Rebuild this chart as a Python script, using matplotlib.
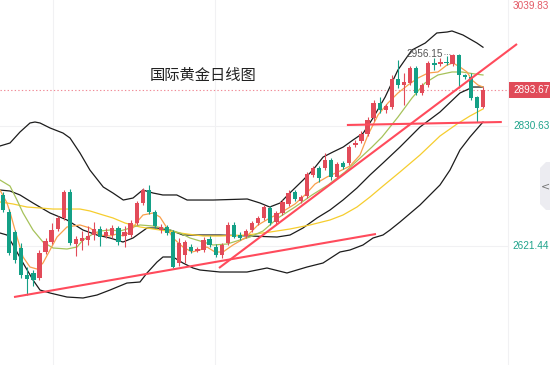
import matplotlib
matplotlib.use('Agg')
import matplotlib.pyplot as plt
import matplotlib.transforms as mtransforms
from matplotlib.patches import Rectangle, Polygon
import numpy as np

# ---------------- data ----------------
opens = [2710.4, 2680.7, 2645.8, 2618.0, 2570.9, 2574.4, 2565.7, 2611.0, 2628.4, 2651.1,
         2670.3, 2715.6, 2624.9, 2630.2, 2631.9, 2640.6, 2651.1, 2638.9, 2640.6, 2652.8,
         2638.9, 2640.6, 2661.5, 2696.4, 2719.1, 2680.7, 2649.3, 2654.6, 2645.8, 2591.8,
         2605.8, 2619.7, 2612.7, 2614.5, 2633.6, 2619.7, 2605.8, 2626.7, 2658.1, 2640.6,
         2638.9, 2649.3, 2661.5, 2670.3, 2687.7, 2663.3, 2679.0, 2694.7, 2715.6, 2699.9,
         2708.6, 2745.2, 2757.4, 2757.4, 2771.4, 2741.7, 2766.1, 2766.1, 2797.5, 2804.5,
         2816.7, 2844.6, 2870.7, 2858.5, 2863.8, 2912.6, 2902.1, 2905.6, 2931.8, 2888.2,
         2902.1, 2940.5, 2938.7, 2942.2, 2938.7, 2954.0, 2919.6, 2916.1, 2881.2, 2863.8]
highs = [2715.6, 2685.9, 2649.3, 2626.7, 2584.8, 2579.6, 2614.5, 2635.4, 2661.5, 2673.7,
         2719.1, 2720.8, 2638.9, 2647.6, 2656.3, 2663.3, 2656.3, 2652.8, 2658.1, 2656.3,
         2656.3, 2666.8, 2699.9, 2722.6, 2727.8, 2684.2, 2659.8, 2658.1, 2649.3, 2635.4,
         2631.9, 2624.9, 2619.7, 2637.1, 2638.9, 2624.9, 2626.7, 2663.3, 2663.3, 2645.8,
         2651.1, 2665.0, 2673.7, 2692.9, 2691.2, 2682.5, 2701.6, 2719.1, 2719.1, 2710.4,
         2750.5, 2760.9, 2760.9, 2783.6, 2774.9, 2767.9, 2769.6, 2797.5, 2806.2, 2821.9,
         2846.3, 2876.0, 2881.2, 2869.0, 2919.6, 2945.7, 2923.0, 2935.2, 2935.2, 2905.6,
         2944.0, 2949.2, 2949.2, 2952.7, 2956.15, 2955.5, 2921.3, 2923.0, 2882.9, 2898.6]
lows = [2680.7, 2605.8, 2591.8, 2565.7, 2536.0, 2551.7, 2562.2, 2607.5, 2624.9, 2647.6,
        2666.8, 2623.2, 2604.0, 2614.5, 2623.2, 2631.9, 2621.4, 2635.4, 2635.4, 2623.2,
        2619.7, 2637.1, 2658.1, 2692.9, 2677.2, 2652.8, 2644.1, 2640.6, 2583.1, 2586.6,
        2591.8, 2609.2, 2611.0, 2611.0, 2619.7, 2602.3, 2600.5, 2623.2, 2635.4, 2631.9,
        2635.4, 2645.8, 2658.1, 2666.8, 2658.1, 2659.8, 2675.5, 2691.2, 2699.9, 2696.4,
        2705.1, 2741.7, 2733.0, 2753.9, 2736.5, 2738.2, 2755.7, 2762.7, 2794.0, 2801.0,
        2813.2, 2839.4, 2853.3, 2853.3, 2860.3, 2896.9, 2867.3, 2902.1, 2884.7, 2884.7,
        2898.6, 2928.3, 2935.2, 2937.0, 2935.2, 2896.9, 2912.6, 2876.0, 2837.6, 2862.0]
closes = [2684.2, 2609.2, 2597.0, 2570.9, 2563.9, 2562.2, 2609.2, 2630.2, 2649.3, 2670.3,
          2715.6, 2626.7, 2633.6, 2635.4, 2638.9, 2651.1, 2637.1, 2645.8, 2652.8, 2628.4,
          2645.8, 2661.5, 2696.4, 2719.1, 2680.7, 2656.3, 2654.6, 2644.1, 2584.8, 2626.7,
          2628.4, 2612.7, 2616.2, 2631.9, 2623.2, 2605.8, 2623.2, 2658.1, 2637.1, 2635.4,
          2647.6, 2661.5, 2670.3, 2689.4, 2661.5, 2679.0, 2698.2, 2713.8, 2703.4, 2706.9,
          2747.0, 2757.4, 2740.0, 2771.4, 2741.7, 2764.4, 2759.2, 2794.0, 2801.0, 2816.7,
          2841.1, 2870.7, 2858.5, 2865.5, 2912.6, 2902.1, 2907.3, 2931.8, 2888.2, 2902.1,
          2940.5, 2937.0, 2942.2, 2940.5, 2954.5, 2919.6, 2916.1, 2879.5, 2862.0, 2893.67]

# indicator lines: (candle index, price) samples
bb_upper_x = [-0.5, 1.15, 2.8, 4.44, 5.26, 6.09, 7.74, 9.87, 11.03, 12.67, 14.3, 16.5, 18.1,
              19.8, 21.4, 23.0, 24.7, 26.3, 28.6, 30.3, 32.4, 34.6, 40.2, 42.3, 43.9, 45.6,
              47.2, 49.4, 51.0, 52.7, 54.3, 56.0, 57.6, 59.3, 60.9, 62.9, 65.0, 67.3, 69.5,
              71.4, 73.1, 73.9, 75.7, 78.0, 79.0]
bb_upper = [2795.8, 2801.0, 2820.2, 2835.9, 2837.6, 2835.9, 2827.2, 2818.4, 2809.7, 2783.6,
            2753.9, 2724.3, 2713.8, 2701.6, 2705.1, 2719.1, 2713.8, 2710.4, 2710.4, 2701.6,
            2701.6, 2701.6, 2703.4, 2696.4, 2689.4, 2696.4, 2713.8, 2736.5, 2753.9, 2776.6,
            2785.3, 2794.0, 2806.2, 2818.4, 2844.6, 2881.2, 2928.3, 2963.1, 2975.3, 2992.8,
            2994.5, 2996.3, 2989.3, 2975.3, 2968.0]
bb_mid_x = [-0.5, 1.15, 2.8, 4.94, 7.74, 10.53, 13.17, 15.47, 17.61, 19.75, 21.4, 23.7,
            25.35, 27.49, 29.62, 32.42, 35.71, 40.65, 45.1, 47.24, 49.37, 51.68, 53.82,
            55.96, 58.26, 60.4, 62.54, 65.34, 68.63, 71.92, 75.21, 77.35, 79.0]
bb_mid = [2719.1, 2717.3, 2710.4, 2696.4, 2679.0, 2666.8, 2649.3, 2640.6, 2635.4, 2628.4,
          2635.4, 2652.8, 2652.8, 2649.3, 2640.6, 2640.6, 2640.6, 2638.9, 2637.1, 2640.6,
          2652.8, 2670.3, 2684.2, 2701.6, 2722.6, 2745.2, 2766.1, 2794.0, 2828.9, 2855.0,
          2888.2, 2898.6, 2898.6]
bb_lower_x = [-0.5, 0.66, 1.65, 3.3, 4.94, 6.09, 7.74, 10.53, 13.17, 15.47, 17.61, 20.4,
              22.55, 23.7, 25.35, 26.33, 27.98, 29.62, 31.27, 32.42, 35.71, 40.16, 43.45,
              46.74, 50.03, 52.67, 55.46, 57.11, 59.25, 60.9, 62.54, 63.69, 65.34, 68.63,
              71.92, 73.57, 75.21, 76.86, 79.0]
bb_lower = [2644.1, 2640.6, 2623.2, 2591.8, 2562.2, 2544.7, 2539.5, 2532.5, 2530.8, 2536.0,
            2544.7, 2556.9, 2558.7, 2574.4, 2593.5, 2602.3, 2602.3, 2591.8, 2583.1, 2579.6,
            2576.1, 2576.1, 2583.1, 2574.4, 2584.8, 2591.8, 2611.0, 2614.5, 2623.2, 2635.4,
            2640.6, 2649.3, 2663.3, 2692.9, 2727.8, 2753.9, 2788.8, 2811.5, 2837.6]
ma_orange_x = [-0.5, 0.66, 1.15, 2.3, 3.3, 4.44, 5.6, 6.58, 7.74, 8.89, 10.53, 12.67, 14.32,
               15.96, 17.61, 18.76, 19.75, 20.9, 22.05, 23.04, 24.69, 25.84, 26.99, 27.98,
               29.62, 31.1, 32.42, 33.57, 34.89, 36.21, 37.85, 39.83, 41.97, 43.94, 45.92,
               48.06, 49.7, 51.35, 53.32, 55.46, 57.11, 58.76, 60.07, 61.72, 63.36, 65.01,
               66.66, 68.3, 69.95, 71.59, 73.08, 74.06, 75.21, 76.37, 77.19, 78.18, 79.0]
ma_orange = [2719.1, 2696.4, 2680.7, 2637.1, 2602.3, 2584.8, 2581.3, 2591.8, 2614.5, 2637.1,
             2654.6, 2658.1, 2652.8, 2640.6, 2638.9, 2642.4, 2638.9, 2645.8, 2663.3, 2675.5,
             2679.0, 2672.0, 2652.8, 2635.4, 2619.7, 2611.0, 2614.5, 2619.7, 2611.0, 2611.0,
             2623.2, 2635.4, 2658.1, 2670.3, 2680.7, 2694.7, 2710.4, 2729.5, 2741.7, 2752.2,
             2760.9, 2780.1, 2815.0, 2849.8, 2870.7, 2888.2, 2902.1, 2914.3, 2923.0, 2924.8,
             2937.0, 2940.5, 2933.5, 2924.8, 2910.8, 2902.1, 2898.6]
ma_olive_x = [-0.5, 1.15, 2.3, 3.3, 4.94, 6.58, 8.23, 10.53, 12.18, 13.17, 14.81, 15.96,
              17.61, 19.26, 20.4, 22.55, 24.69, 26.99, 29.13, 30.78, 32.42, 34.56, 36.87,
              39.0, 40.65, 42.79, 45.26, 48.06, 50.86, 53.49, 56.29, 58.43, 60.73, 62.38,
              65.01, 67.32, 69.45, 71.59, 73.9, 75.54, 77.68, 79.0]
ma_olive = [2736.5, 2726.0, 2701.6, 2679.0, 2649.3, 2628.4, 2618.0, 2616.2, 2619.7, 2631.9,
            2642.4, 2647.6, 2649.3, 2647.6, 2651.1, 2658.1, 2656.3, 2651.1, 2644.1, 2635.4,
            2630.2, 2623.2, 2624.9, 2631.9, 2637.1, 2647.6, 2670.3, 2689.4, 2710.4, 2727.8,
            2750.5, 2771.4, 2794.0, 2811.5, 2846.3, 2879.5, 2905.6, 2919.6, 2924.8, 2924.8,
            2921.3, 2919.6]
ma_yellow_x = [-0.5, 1.65, 3.95, 6.09, 8.23, 12.67, 14.32, 16.46, 18.1, 20.08, 22.55, 25.84,
               30.28, 32.92, 35.71, 40.16, 43.94, 47.24, 50.53, 53.82, 55.96, 58.26, 60.4,
               62.54, 65.34, 68.63, 71.92, 74.72, 76.86, 79.0]
ma_yellow = [2698.2, 2694.7, 2689.4, 2687.7, 2685.9, 2685.9, 2682.5, 2675.5, 2670.3, 2661.5,
             2654.6, 2649.3, 2642.4, 2638.9, 2638.9, 2640.6, 2645.8, 2651.1, 2658.1, 2666.8,
             2675.5, 2689.4, 2706.9, 2726.0, 2750.5, 2780.1, 2813.2, 2834.1, 2848.1, 2860.3]

# trend lines drawn on the chart: ((x0, p0), (x1, p1))
trend_lines = [((1.81, 2532.5), (61.39, 2642.4)),
               ((35.55, 2583.1), (84.6, 2973.6)),
               ((56.6, 2832.4), (82.1, 2837.6))]

title = "国际黄金日线图"
last_price = 2893.67
high_price = 2956.15
high_idx = 74
axis_labels = [3039.83, 2830.63, 2621.44]
grid_prices = [2830.63, 2621.44]
vgrid_idx = [8.23, 34.89, 83.11]

# ---------------- style ----------------
RED = '#e24b59'
GREEN = '#14a086'
TREND = '#ff4b5c'

W, H = 550, 365
fig = plt.figure(figsize=(W / 100, H / 100), dpi=100)
ax = fig.add_axes([0, 0, 1, 1])
ax.set_xlim(-0.494, 90.03)
ax.set_ylim(2414.0, 3050.3)
ax.axis('off')
fig.patch.set_facecolor('white')

# grid
for gp in grid_prices:
    ax.plot([-0.494, 83.11], [gp, gp], color='#f1f1f3', lw=0.8, zorder=0)
for vx in vgrid_idx:
    ax.axvline(vx, color='#f1f1f3', lw=0.8, zorder=0)

# current price dotted line
ax.plot([-0.494, 83.4], [last_price, last_price], color='#f08a96', lw=0.8,
        linestyle=(0, (1.2, 2.0)), zorder=1)

# indicator lines
ax.plot(bb_upper_x, bb_upper, color='#1c1c1c', lw=0.9, zorder=2)
ax.plot(bb_mid_x, bb_mid, color='#1c1c1c', lw=0.9, zorder=2)
ax.plot(bb_lower_x, bb_lower, color='#1c1c1c', lw=0.9, zorder=2)
ax.plot(ma_yellow_x, ma_yellow, color='#f6cd2e', lw=0.9, zorder=2)
ax.plot(ma_olive_x, ma_olive, color='#a6c25a', lw=0.9, zorder=2)
ax.plot(ma_orange_x, ma_orange, color='#f9a04c', lw=0.9, zorder=2)

# candles
idx = np.arange(len(opens))
o = np.array(opens); c = np.array(closes); h = np.array(highs); l = np.array(lows)
up = c >= o
cols = np.where(up, RED, GREEN)
ax.vlines(idx, l, h, colors=cols, lw=0.8, zorder=3)
bottoms = np.minimum(o, c)
heights = np.maximum(np.abs(c - o), 1.6)
ax.bar(idx, heights, bottom=bottoms, width=0.7, color=cols, edgecolor='none', zorder=3)

# trend lines
for (x0, p0), (x1, p1) in trend_lines:
    ax.plot([x0, x1], [p0, p1], color=TREND, lw=1.5, solid_capstyle='butt', zorder=4)

# title
ax.text(0.2727, 0.7945, title, transform=ax.transAxes, fontsize=11,
        family=['Noto Sans CJK SC', 'DejaVu Sans'], color='#222222', va='center', ha='left', zorder=5)

# highest price annotation
ax.text(high_idx - 1.6, high_price, f"{high_price:.2f}", fontsize=7.2, family='Liberation Sans',
        color='#555555', ha='right', va='center', zorder=5)
ax.plot([high_idx - 1.45, high_idx - 0.2], [high_price, high_price], color='#888888', lw=0.7,
        linestyle=(0, (1, 1.5)), zorder=5)

# right axis labels
trans = mtransforms.blended_transform_factory(ax.transAxes, ax.transData)
lx = 513 / W
ax.text(lx, axis_labels[0], f"{axis_labels[0]:.2f}", transform=trans, fontsize=7.2,
        family='Liberation Sans', color='#e35a66', va='center', ha='left', zorder=6)
ax.text(lx, axis_labels[1], f"{axis_labels[1]:.2f}", transform=trans, fontsize=7.2,
        family='Liberation Sans', color='#1fa38b', va='center', ha='left', zorder=6)
ax.text(lx - 1 / W, axis_labels[2], f"{axis_labels[2]:.2f}", transform=trans, fontsize=7.2,
        family='Liberation Sans', color='#1fa38b', va='center', ha='left', zorder=6)

# last price box
box_h = 16 * (3050.3 - 2414.0) / H
ax.add_patch(Rectangle((509 / W, last_price - box_h / 2), 41 / W, box_h, transform=trans,
                       facecolor='#e04b59', edgecolor='none', zorder=6))
ax.text(lx, last_price, f"{last_price:.2f}", transform=trans, fontsize=7.2,
        family='Liberation Sans', color='white', va='center', ha='left', zorder=7)

# side tab (hexagon-like)
tab = [(550, 162), (546, 162), (540, 168), (540, 204), (546, 210), (550, 210)]
ax.add_patch(Polygon([(px / W, 1 - py / H) for px, py in tab], closed=True,
                     transform=ax.transAxes, facecolor='#ececf1', edgecolor='none', zorder=6))
ax.text(546 / W, 1 - 186 / H, "<", transform=ax.transAxes, fontsize=8, color='#777777',
        ha='center', va='center', zorder=7)

fig.savefig('out.png', dpi=100, facecolor='white')
